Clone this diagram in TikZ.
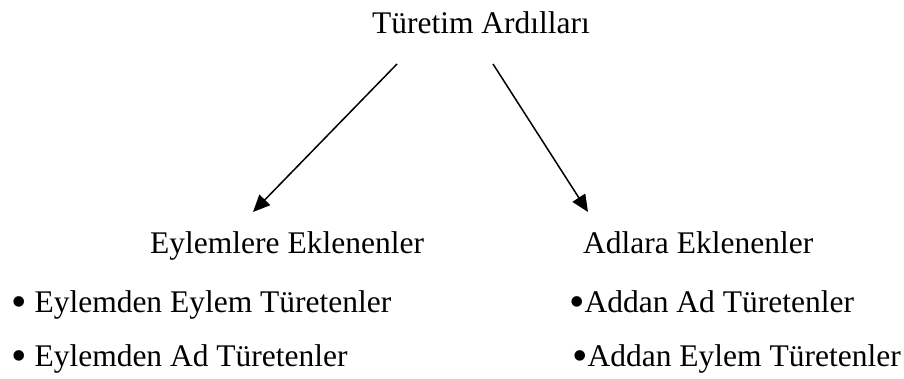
\documentclass[tikz,border=0pt]{standalone}
\usepackage{fontspec}
\setmainfont{Liberation Serif}
\usetikzlibrary{arrows.meta,positioning}

\newcommand{\bulletdot}{\raisebox{-4pt}{\scalebox{1.4}{•}}}

\begin{document}
\begin{tikzpicture}[x=1pt,y=-1pt]%
        \useasboundingbox (0,0) rectangle (904,378);
        \begin{scope}
            \tikzstyle{every node}=[inner sep=0pt,anchor=base west,font=\fontsize{31.5}{36}\selectfont];%%
            \node[anchor=base] (tur) at (481,33)  {Türetim Ardılları}; %%
            \node (eyl) at (150,253)  {Eylemlere Eklenenler}; %%
            \node (adl) at (583,253)  {Adlara Eklenenler}; %%
            \node (ee) at (11,312)  {\bulletdot\ Eylemden Eylem Türetenler}; %%
            \node (ea) at (11,366)  {\bulletdot\ Eylemden Ad Türetenler}; %%
            \node (aa) at (569,312)  {\bulletdot Addan Ad Türetenler}; %%
            \node (ae) at (572,366)  {\bulletdot Addan Eylem Türetenler}; %%
        \end{scope}
        \coordinate (sl) at (397,64); %%
        \coordinate (el) at (253,212); %%
        \coordinate (sr) at (493,64); %%
        \coordinate (er) at (588,212); %%
        \draw[line width=1.5pt,-{Triangle[length=17pt,width=15pt]}] (sl)--(el); %%
        \draw[line width=1.5pt,-{Triangle[length=17pt,width=15pt]}] (sr)--(er); %%
\end{tikzpicture}
\end{document}
